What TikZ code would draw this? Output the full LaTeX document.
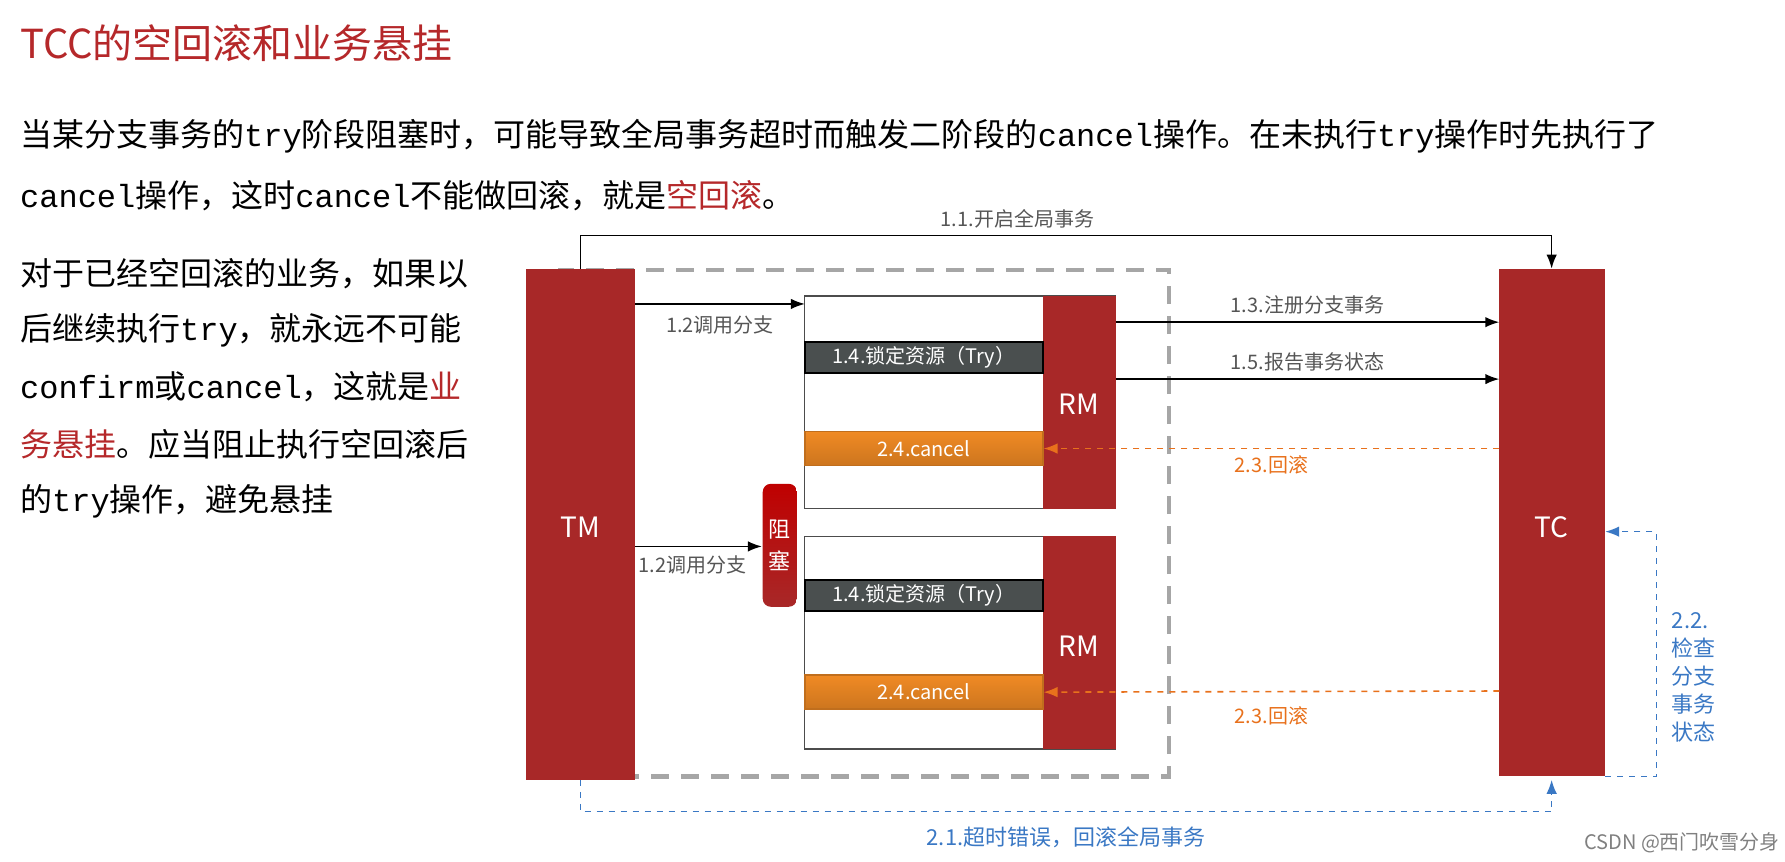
\documentclass[tikz,border=0pt]{standalone}
\usepackage{fontspec}
\setmainfont{Noto Sans CJK SC}
\newfontfamily\codefont{Liberation Mono}
\newfontfamily\labfont{Noto Sans CJK SC}
\usetikzlibrary{arrows.meta}
\definecolor{tccred}{HTML}{A82828}
\definecolor{titlered}{HTML}{B5282A}
\definecolor{trygray}{HTML}{4A4F4F}
\definecolor{cancelor}{HTML}{F08A24}
\definecolor{dashor}{HTML}{E8711C}
\definecolor{dashblue}{HTML}{3A78C4}
\definecolor{labgray}{HTML}{555555}
\newcommand{\tc}[1]{{\codefont #1}}
\begin{document}
\begin{tikzpicture}[x=0.02cm,y=-0.02cm,line width=0.8pt]
\tikzstyle{every node}=[font=\labfont\fontsize{10}{12}\selectfont]
\tikzstyle{bar}=[fill=tccred,draw=none]
\tikzstyle{barlab}=[text=white,font=\fontsize{14}{16}\selectfont]
\tikzstyle{trybox}=[draw=black,fill=trygray,text=white,minimum width=4.18cm,minimum height=0.54cm,inner sep=0pt]
\tikzstyle{cancelbox}=[draw=cancelor!80!black,top color=cancelor,bottom color=cancelor!85!black,text=white,minimum width=4.18cm,minimum height=0.6cm,inner sep=0pt]
\tikzstyle{lab}=[text=labgray]
\tikzstyle{orlab}=[text=dashor]
\tikzstyle{bluelab}=[text=dashblue]
\tikzstyle{para}=[anchor=west,font=\fontsize{16}{19}\selectfont,inner sep=0pt]
\useasboundingbox (0,0) rectangle (1568,757);
% texts on the left
\node[para,text=titlered,font=\fontsize{20}{23}\selectfont] (title) at (17,38) {TCC的空回滚和业务悬挂};
\node[para] (p1) at (17,120) {当某分支事务的\tc{try}阶段阻塞时，可能导致全局事务超时而触发二阶段的\tc{cancel}操作。在未执行\tc{try}操作时先执行了};
\node[para] (p2) at (17,172) {\tc{cancel}操作，这时\tc{cancel}不能做回滚，就是\textcolor{titlered}{空回滚}。};
\node[para] (q1) at (17,240) {对于已经空回滚的业务，如果以};
\node[para] (q2) at (17,290) {后继续执行\tc{try}，就永远不可能};
\node[para] (q3) at (17,340) {\tc{confirm}或\tc{cancel}，这就是\textcolor{titlered}{业}};
\node[para] (q4) at (17,390) {\textcolor{titlered}{务悬挂}。应当阻止执行空回滚后};
\node[para] (q5) at (17,440) {的\tc{try}操作，避免悬挂};
% dashed frame
\draw[gray!70,line width=2.2pt,dash pattern=on 9pt off 6pt] (490,237) rectangle (1027,682);
% TM and TC
\fill[bar] (462,236) rectangle (558,685);
\node[barlab] (tm) at (510,463) {TM};
\fill[bar] (1317,236) rectangle (1410,682);
\node[barlab] (tc) at (1363,463) {TC};
\coordinate (tmtop) at (510,236);
\coordinate (tctop) at (1363,236);
\coordinate (tmbot) at (510,685);
\coordinate (tcbot) at (1363,685);
% RM groups
\foreach \y/\n in {260/1,471/2}{
  \draw[black!70,line width=0.6pt] (707,\y) rectangle (980,\y+187);
  \fill[bar] (916,\y) rectangle (980,\y+187);
}
\node[barlab] (rma) at (948,355) {RM};
\node[barlab] (rmb) at (948,568) {RM};
\node[trybox] (trya) at (811.5,314) {1.4.锁定资源（Try）};
\node[trybox] (tryb) at (811.5,523) {1.4.锁定资源（Try）};
\node[cancelbox] (cana) at (811.5,394) {2.4.cancel};
\node[cancelbox] (canb) at (811.5,608) {2.4.cancel};
% block
\node[rounded corners=4pt,top color=red!75!black,bottom color=tccred,text=white,minimum width=0.6cm,minimum height=2.16cm,inner sep=0pt,align=center,font=\fontsize{11}{16}\selectfont] (blk) at (685,479) {阻\\塞};
% arrows
\draw[-{Latex[length=7pt]}] (tmtop) -- (510,207) -- node[lab,above,pos=0.45] {1.1.开启全局事务} (1363,207) -- (tctop);
\draw[-{Latex[length=7pt]}] (558,267) -- (707,267) node[lab,pos=0.5,below=2pt] {1.2调用分支};
\draw[-{Latex[length=7pt]}] (558,480) -- (blk.west |- 558,480) node[lab,pos=0.45,below=1pt] {1.2调用分支};
\draw[-{Latex[length=7pt]}] (980,283) -- node[lab,above] {1.3.注册分支事务} (1317,283);
\draw[-{Latex[length=7pt]}] (980,333) -- node[lab,above] {1.5.报告事务状态} (1317,333);
\draw[dashor,dashed,-{Latex[length=7pt]}] (1317,394) -- node[orlab,below] {2.3.回滚} (cana.east);
\draw[dashor,dashed,-{Latex[length=7pt]}] (1317,607) -- node[orlab,below=4pt] {2.3.回滚} (canb.east);
\draw[dashblue,dashed,-{Latex[length=7pt]}] (1410,682) -- (1455,682) -- (1455,467) -- (1410,467);
\node[bluelab,align=left,anchor=west,font=\fontsize{11}{14}\selectfont] (chk) at (1462,595) {2.2.\\检查\\分支\\事务\\状态};
\draw[dashblue,dashed,-{Latex[length=7pt]}] (tmbot) -- (510,713) -- node[bluelab,below=4pt,font=\fontsize{11}{13}\selectfont] {2.1.超时错误，回滚全局事务} (1363,713) -- (tcbot);
\node[text=gray,anchor=west] (csdn) at (1385,740) {CSDN @西门吹雪分身};
\end{tikzpicture}
\end{document}
